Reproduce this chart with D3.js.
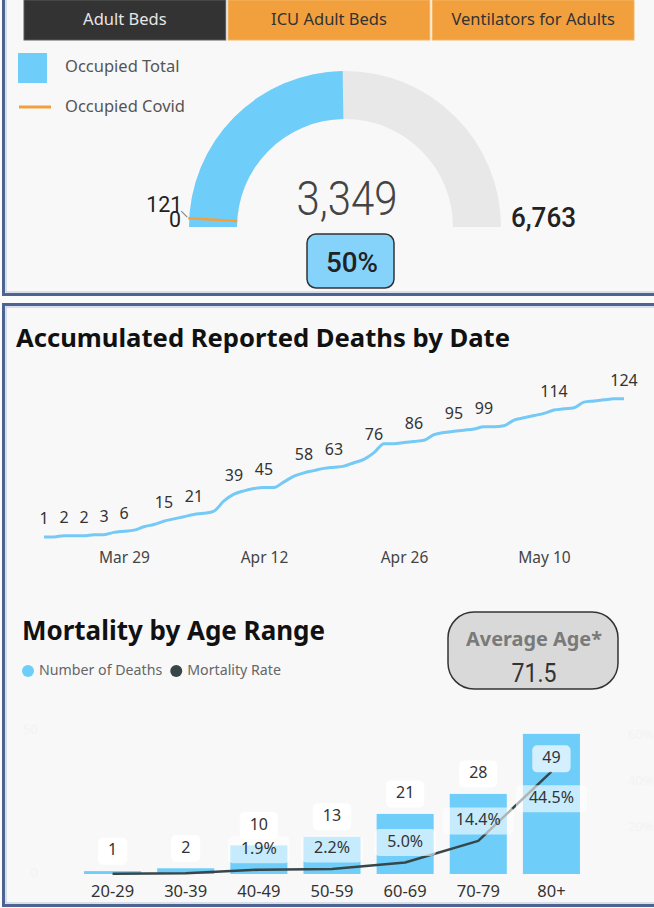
<!DOCTYPE html>
<html><head><meta charset="utf-8">
<script src="https://cdn.jsdelivr.net/npm/d3@7"></script>
<style>
html,body{margin:0;padding:0;background:#fbfbfb;}
svg{display:block;font-family:"Noto Sans","Open Sans",sans-serif;}
</style></head>
<body><svg id="c" width="654" height="908"></svg>
<script>
// ---------- DATA ----------
const buttons = ["Adult Beds", "ICU Adult Beds", "Ventilators for Adults"];
const gaugeLegend = ["Occupied Total", "Occupied Covid"];
const gaugeMin = 0;
const gaugeMax = 6763;
const gaugeOccupied = 3349;
const gaugeCovid = 121;

const deathsStart = "2020-03-21";
const deathsCumulative = [1,1,2,2,2,3,3,5,6,7,10,
  12,15,17,19,21,22,24,33,39,42,44,45,45,50,55,58,60,62,63,64,67,70,76,84,84,85,86,87,92,94,
  95,96,97,99,99,100,105,107,109,111,114,115,116,121,122,123,124,124];
const deathLabelDates = ["2020-03-21","2020-03-23","2020-03-25","2020-03-27","2020-03-29","2020-04-02","2020-04-05",
  "2020-04-09","2020-04-12","2020-04-16","2020-04-19","2020-04-23","2020-04-27","2020-05-01","2020-05-04",
  "2020-05-11","2020-05-18"];
const dateTicks = ["2020-03-29","2020-04-12","2020-04-26","2020-05-10"];

const ageRanges = ["20-29","30-39","40-49","50-59","60-69","70-79","80+"];
const deathsByAge = [1,2,10,13,21,28,49];
const mortalityRate = [0.1,0.3,1.9,2.2,5.0,14.4,44.5];
const ageLegend = ["Number of Deaths","Mortality Rate"];
const countTicks = [0,50];
const rateTicks = [20,40,60];
const averageAge = 71.5;

// ---------- STYLE ----------
const BLUE = "#6fcdfa", ORANGE = "#f2a03d", DARK = "#374649";
const svg = d3.select("#c");
const parse = d3.timeParse("%Y-%m-%d");

function fit(sel, w){ // scale font-size so text spans width w
  const n = sel.node(); const fs = parseFloat(sel.attr("font-size"));
  const cur = n.getComputedTextLength(); sel.attr("font-size", (fs*w/cur).toFixed(2));
}

function panel(y0, y1){
  svg.append("rect").attr("x",3.5).attr("y",y0).attr("width",720).attr("height",y1-y0)
    .attr("fill","#f8f8f8").attr("stroke","#4d6391").attr("stroke-width",3);
  svg.append("rect").attr("x",6).attr("y",y0+2.5).attr("width",720).attr("height",y1-y0-5)
    .attr("fill","none").attr("stroke","#b9c4dc").attr("stroke-width",1);
}
panel(-20, 294.5);
panel(304.5, 905.5);

// ---------- TOP: buttons ----------
const bx = d3.scaleBand().domain(buttons).range([24,634]).paddingInner(0.012);
const bg = svg.append("g");
buttons.forEach((b,i)=>{
  bg.append("rect").attr("x",bx(b)).attr("y",0).attr("width",bx.bandwidth()).attr("height",40)
    .attr("fill", i===0?"#333333":ORANGE).attr("stroke", i===0?"#5a5a5a":"#f5b461").attr("stroke-width",1);
  bg.append("text").attr("x",bx(b)+bx.bandwidth()/2).attr("y",21).attr("text-anchor","middle")
    .attr("dominant-baseline","middle").attr("font-size",16.5).attr("fill", i===0?"#e6e6e6":"#333").text(b);
});

// legend
svg.append("rect").attr("x",18).attr("y",53).attr("width",29).attr("height",30).attr("fill",BLUE);
svg.append("line").attr("x1",19).attr("x2",51).attr("y1",107).attr("y2",107).attr("stroke",ORANGE).attr("stroke-width",3);
gaugeLegend.forEach((t,i)=>{
  svg.append("text").attr("x",65).attr("y",68+i*40).attr("dominant-baseline","middle")
    .attr("font-size",16.5).attr("fill","#555").text(t);
});

// gauge
const cx = 345, cy = 227, R = 156, r0 = 108;
const ga = d3.scaleLinear().domain([gaugeMin,gaugeMax]).range([-Math.PI/2, Math.PI/2]);
const arc = d3.arc().innerRadius(r0).outerRadius(R);
const gg = svg.append("g").attr("transform",`translate(${cx},${cy})`);
gg.append("path").attr("d",arc({startAngle:ga(gaugeMin),endAngle:ga(gaugeMax)})).attr("fill","#e8e8e8");
gg.append("path").attr("d",arc({startAngle:ga(gaugeMin),endAngle:ga(gaugeOccupied)})).attr("fill",BLUE);
const ca = ga(gaugeCovid);
const pt = rr => [rr*Math.sin(ca), -rr*Math.cos(ca)];
const pIn = pt(r0), pOut = pt(R+1);
gg.append("line").attr("x1",pIn[0]).attr("y1",pIn[1]).attr("x2",pOut[0]).attr("y2",pOut[1])
  .attr("stroke",ORANGE).attr("stroke-width",2.5);
gg.append("line").attr("x1",pOut[0]-1).attr("y1",pOut[1]-1).attr("x2",pOut[0]-7).attr("y2",pOut[1]-7)
  .attr("stroke","#888").attr("stroke-width",1.2);
const numFont = "Roboto, 'DejaVu Sans', sans-serif";
gg.append("text").attr("x",pOut[0]-6).attr("y",pOut[1]-6).attr("text-anchor","end")
  .attr("font-family",numFont).attr("font-size",22).attr("fill","#222")
  .attr("textLength",36).attr("lengthAdjust","spacingAndGlyphs").text(d3.format(",")(gaugeCovid));
gg.append("text").attr("x",-R-8).attr("y",0).attr("text-anchor","end")
  .attr("font-family",numFont).attr("font-size",22).attr("fill","#222")
  .attr("textLength",12).attr("lengthAdjust","spacingAndGlyphs").text(d3.format(",")(gaugeMin));
gg.append("text").attr("x",R+10).attr("y",0).attr("text-anchor","start")
  .attr("font-family",numFont).attr("font-size",28).attr("font-weight",500).attr("fill","#222")
  .attr("textLength",65).attr("lengthAdjust","spacingAndGlyphs").text(d3.format(",")(gaugeMax));
gg.append("text").attr("x",2).attr("y",-12).attr("text-anchor","middle")
  .attr("font-family",numFont).attr("font-size",49).attr("font-weight",300).attr("fill","#444")
  .attr("textLength",101).attr("lengthAdjust","spacingAndGlyphs").text(d3.format(",")(gaugeOccupied));
gg.append("rect").attr("x",-38).attr("y",7).attr("width",87).attr("height",54).attr("rx",9)
  .attr("fill","#85d3fa").attr("stroke","#333").attr("stroke-width",1.5);
gg.append("text").attr("x",7).attr("y",45).attr("text-anchor","middle")
  .attr("font-family",numFont).attr("font-size",27).attr("font-weight",500).attr("fill","#222")
  .attr("textLength",52).attr("lengthAdjust","spacingAndGlyphs")
  .text(d3.format(".0%")(gaugeOccupied/gaugeMax));

// ---------- LINE CHART ----------
const t1 = svg.append("text").attr("x",16).attr("y",347).attr("font-size",24).attr("font-weight",700)
  .attr("fill","#111").text("Accumulated Reported Deaths by Date");
fit(t1, 494);

const start = parse(deathsStart);
const series = deathsCumulative.map((v,i)=>({date:d3.timeDay.offset(start,i), v}));
const x = d3.scaleTime().domain(d3.extent(series,d=>d.date)).range([44,624]);
const y = d3.scaleLinear().domain([0,130]).range([538,392]);
svg.append("path").datum(series).attr("fill","none").attr("stroke","#74c9f6").attr("stroke-width",3)
  .attr("stroke-linejoin","round")
  .attr("d", d3.line().x(d=>x(d.date)).y(d=>y(d.v)).curve(d3.curveMonotoneX));
const labelSet = new Set(deathLabelDates);
const fmtKey = d3.timeFormat("%Y-%m-%d");
svg.append("g").selectAll("text").data(series.filter(d=>labelSet.has(fmtKey(d.date)))).join("text")
  .attr("x",d=>x(d.date)).attr("y",d=>y(d.v)-17).attr("text-anchor","middle").attr("dominant-baseline","middle")
  .attr("font-size",16).attr("fill","#333").text(d=>d.v);
const xa = svg.append("g").attr("transform","translate(0,551)")
  .call(d3.axisBottom(x).tickValues(dateTicks.map(parse)).tickFormat(d3.timeFormat("%b %-d")).tickSize(0));
xa.select(".domain").remove();
xa.selectAll("text").attr("font-family","Noto Sans, sans-serif").attr("font-size",15.5).attr("fill","#444").attr("dy","0.55em");

// ---------- MORTALITY ----------
const t2 = svg.append("text").attr("x",22).attr("y",640).attr("font-size",24).attr("font-weight",700)
  .attr("fill","#111").text("Mortality by Age Range");
fit(t2, 303);

svg.append("circle").attr("cx",28).attr("cy",671).attr("r",6).attr("fill",BLUE);
const l1 = svg.append("text").attr("x",39).attr("y",671).attr("dominant-baseline","middle")
  .attr("font-size",14.2).attr("fill","#666").text(ageLegend[0]);
const l1w = l1.node().getComputedTextLength();
svg.append("circle").attr("cx",39+l1w+14).attr("cy",671).attr("r",6).attr("fill",DARK);
svg.append("text").attr("x",39+l1w+25).attr("y",671).attr("dominant-baseline","middle")
  .attr("font-size",14.2).attr("fill","#666").text(ageLegend[1]);

// average age card
svg.append("rect").attr("x",448).attr("y",612).attr("width",170).attr("height",77).attr("rx",26)
  .attr("fill","#d9d9d9").attr("stroke","#333").attr("stroke-width",1.5);
const aa = svg.append("text").attr("x",534).attr("y",646).attr("text-anchor","middle")
  .attr("font-size",18).attr("font-weight",700).attr("fill","#7a7a7a").text("Average Age*");
fit(aa,136);
svg.append("text").attr("x",534).attr("y",682).attr("text-anchor","middle")
  .attr("font-family",numFont).attr("font-size",26).attr("fill","#333")
  .attr("textLength",45).attr("lengthAdjust","spacingAndGlyphs").text(d3.format(".1f")(averageAge));

const xb = d3.scaleBand().domain(ageRanges).range([76,588]).paddingInner(0.22).paddingOuter(0.11);
const yb = d3.scaleLinear().domain([0,50]).range([874,731]);
const yr = d3.scaleLinear().domain([0,60]).range([874,736]);

// faint axes
svg.append("g").selectAll("text").data(countTicks).join("text")
  .attr("x",38).attr("y",d=>yb(d)).attr("text-anchor","end").attr("dominant-baseline","middle")
  .attr("font-size",13).attr("fill","#f3f3f3").text(d=>d);
svg.append("g").selectAll("text").data(rateTicks).join("text")
  .attr("x",628).attr("y",d=>yr(d)).attr("dominant-baseline","middle")
  .attr("font-size",13).attr("fill","#f3f3f3").text(d=>d+"%");

const rows = ageRanges.map((a,i)=>({a, n:deathsByAge[i], r:mortalityRate[i]}));
svg.append("g").selectAll("rect").data(rows).join("rect")
  .attr("x",d=>xb(d.a)).attr("width",xb.bandwidth()).attr("y",d=>yb(d.n)).attr("height",d=>yb(0)-yb(d.n))
  .attr("fill",BLUE);
svg.append("path").datum(rows).attr("fill","none").attr("stroke",DARK).attr("stroke-width",2.5)
  .attr("stroke-linejoin","round")
  .attr("d", d3.line().x(d=>xb(d.a)+xb.bandwidth()/2).y(d=>yr(d.r)).curve(d3.curveLinear));

const lg = svg.append("g");
function tag(cxp, cyp, txt, fs, fillOp, pad){
  const g = lg.append("g");
  const t = g.append("text").attr("x",cxp).attr("y",cyp).attr("text-anchor","middle")
    .attr("dominant-baseline","middle").attr("font-size",fs).attr("fill","#333").text(txt);
  const w = t.node().getComputedTextLength();
  g.insert("rect","text").attr("x",cxp-w/2-pad).attr("y",cyp-13.5).attr("width",w+2*pad).attr("height",27)
    .attr("rx",5).attr("fill","#ffffff").attr("fill-opacity",fillOp);
}
rows.forEach(d=>{
  const c = xb(d.a)+xb.bandwidth()/2;
  let cyN = yb(d.n)-20, inside = false;
  if (cyN < yb.range()[1]+10){ cyN = yb(d.n)+25; inside = true; }
  if (d.r >= 1){
    const cyR = inside ? yr(d.r)+27 : yr(d.r)-20;
    tag(c, cyR, d3.format(".1f")(d.r)+"%", 16, 0.6, 13);
  }
  tag(c, cyN, d.n, 16, inside?0.7:0.88, 10);
});

const xab = svg.append("g").attr("transform","translate(0,885)").call(d3.axisBottom(xb).tickSize(0));
xab.select(".domain").remove();
xab.selectAll("text").attr("font-family","Noto Sans, sans-serif").attr("font-size",16.5).attr("fill","#333").attr("dy","0.55em");
</script></body></html>
